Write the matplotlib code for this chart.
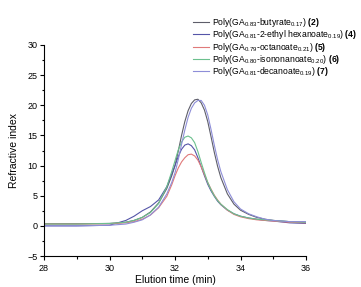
import matplotlib
matplotlib.use("Agg")
import matplotlib.pyplot as plt
from matplotlib.ticker import MultipleLocator

plt.rcParams['font.family'] = ['Liberation Sans', 'DejaVu Sans']
plt.rcParams['mathtext.fontset'] = 'custom'
plt.rcParams['mathtext.rm'] = 'Liberation Sans'
plt.rcParams['mathtext.it'] = 'Liberation Sans:italic'
plt.rcParams['mathtext.bf'] = 'Liberation Sans:bold'

# Elution time grid (min)
elution_time = [28, 29, 30, 30.5, 30.75, 31, 31.25, 31.5, 31.75, 31.9, 32.0, 32.1, 32.2,
                32.3, 32.4, 32.5, 32.6, 32.7, 32.8, 32.9, 33.0, 33.1, 33.2, 33.3, 33.4,
                33.6, 33.8, 34, 34.25, 34.5, 34.75, 35, 35.5, 36]

ri_butyrate = [0.35, 0.35, 0.4, 0.6, 0.9, 1.4, 2.3, 3.8, 6.2, 8.3, 10.0, 12.4, 15.0,
               17.3, 19.1, 20.3, 20.9, 21.0, 20.4, 19.2, 17.3, 14.8, 12.2, 9.9, 8.0,
               5.3, 3.6, 2.6, 1.9, 1.4, 1.1, 0.9, 0.7, 0.6]
ri_ethylhex = [0.0, 0.0, 0.1, 0.9, 1.6, 2.5, 3.2, 4.3, 6.5, 8.6, 10.0, 11.5, 12.7,
               13.4, 13.6, 13.3, 12.6, 11.3, 9.8, 8.3, 6.9, 5.8, 4.9, 4.1, 3.5,
               2.6, 2.0, 1.6, 1.3, 1.1, 0.9, 0.8, 0.5, 0.4]
ri_octanoate = [0.3, 0.3, 0.35, 0.5, 0.7, 1.1, 1.8, 3.0, 4.9, 6.8, 8.3, 9.6, 10.6,
                11.3, 11.8, 11.9, 11.6, 10.9, 9.8, 8.5, 7.2, 6.1, 5.1, 4.3, 3.6,
                2.6, 1.9, 1.5, 1.2, 1.0, 0.9, 0.8, 0.6, 0.5]
ri_isononanoate = [0.3, 0.3, 0.4, 0.6, 0.9, 1.4, 2.2, 3.7, 6.5, 9.0, 10.8, 12.6, 13.9,
                   14.7, 14.9, 14.6, 13.8, 12.3, 10.5, 8.8, 7.2, 6.0, 5.0, 4.2, 3.6,
                   2.7, 2.0, 1.6, 1.3, 1.1, 1.0, 0.9, 0.7, 0.6]
ri_decanoate = [0.0, 0.0, 0.1, 0.3, 0.6, 1.0, 1.8, 3.1, 5.3, 7.2, 8.8, 11.0, 13.5,
                15.9, 18.0, 19.5, 20.4, 20.8, 20.8, 20.0, 18.4, 16.0, 13.4, 11.0, 9.0,
                6.0, 4.0, 2.8, 2.0, 1.5, 1.1, 0.9, 0.7, 0.7]

labels = [
    r'Poly(GA$_{0.83}$-butyrate$_{0.17}$) $\mathbf{(2)}$',
    r'Poly(GA$_{0.81}$-2-ethyl hexanoate$_{0.19}$) $\mathbf{(4)}$',
    r'Poly(GA$_{0.79}$-octanoate$_{0.21}$) $\mathbf{(5)}$',
    r'Poly(GA$_{0.80}$-isononanoate$_{0.20}$) $\mathbf{(6)}$',
    r'Poly(GA$_{0.81}$-decanoate$_{0.19}$) $\mathbf{(7)}$',
]
series = [ri_butyrate, ri_ethylhex, ri_octanoate, ri_isononanoate, ri_decanoate]
colors = ['#5e5e6a', '#5555a8', '#e07a7a', '#6cc08e', '#8e8ed8']

fig = plt.figure(figsize=(3.61, 2.87), dpi=100)
ax = fig.add_axes([44/361, 1-256/287, (306-44)/361, (256-45)/287])

for ys, c, lab in zip(series, colors, labels):
    ax.plot(elution_time, ys, color=c, lw=0.8, label=lab)

ax.set_xlim(28, 36)
ax.set_ylim(-5, 30)
ax.xaxis.set_major_locator(MultipleLocator(2))
ax.xaxis.set_minor_locator(MultipleLocator(1))
ax.yaxis.set_major_locator(MultipleLocator(5))
ax.yaxis.set_minor_locator(MultipleLocator(2.5))
ax.spines['top'].set_visible(False)
ax.spines['right'].set_visible(False)
for s in ['left', 'bottom']:
    ax.spines[s].set_linewidth(0.8)
ax.tick_params(which='major', direction='out', length=3, width=0.8, labelsize=6.5, pad=1.5)
ax.tick_params(axis='x', which='major', pad=2.5)
ax.tick_params(which='minor', direction='out', length=1.8, width=0.8)

ax.set_xlabel('Elution time (min)', fontsize=7.5, labelpad=2)
ax.set_ylabel('Refractive index', fontsize=7.5, labelpad=6)

fig.legend(loc='upper left', bbox_to_anchor=(193/361, 1-16/287), frameon=False,
           fontsize=6.2, handlelength=1.9, handletextpad=0.35, labelspacing=-0.08,
           borderaxespad=0, borderpad=0)

fig.savefig('out.png', dpi=100)
